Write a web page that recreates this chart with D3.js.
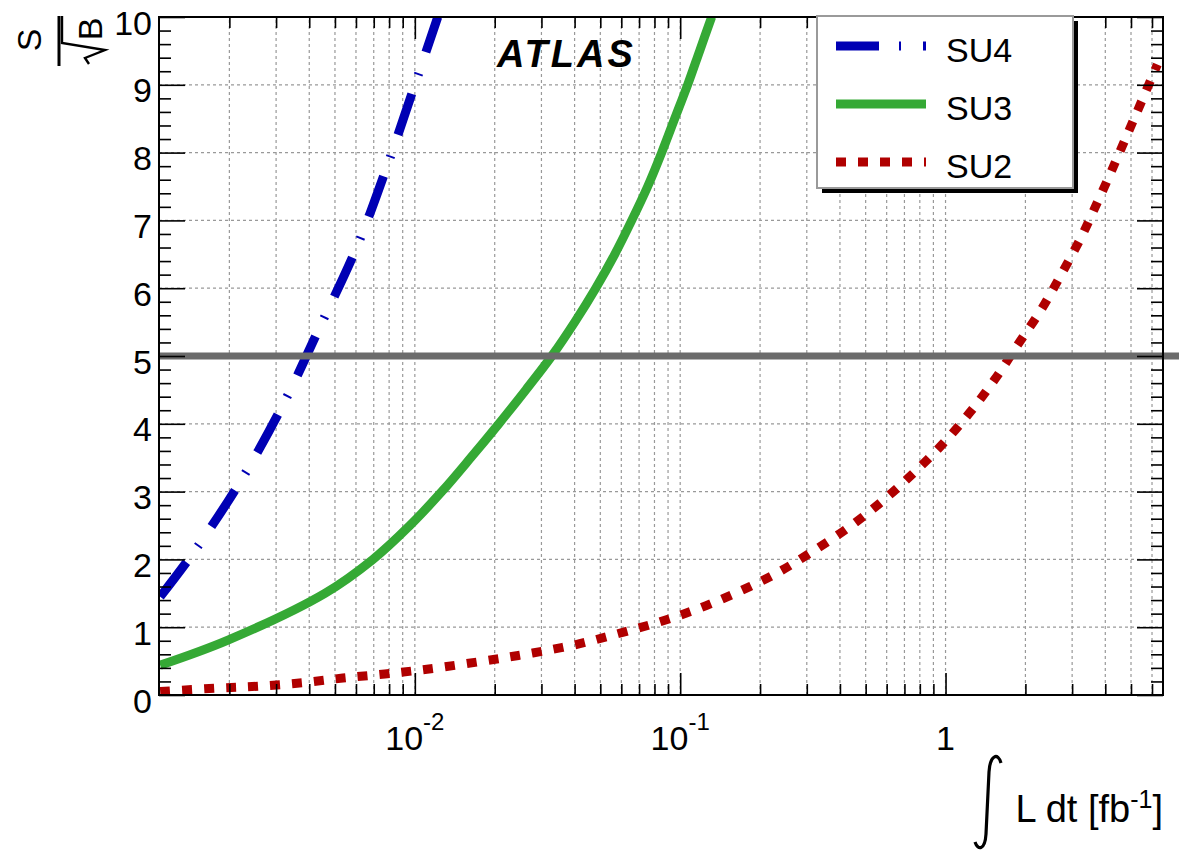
<!DOCTYPE html>
<html>
<head>
<meta charset="utf-8">
<script src="https://cdn.jsdelivr.net/npm/d3@7"></script>
<style>
  body { margin: 0; background: #fff; }
  svg { display: block; font-family: "Liberation Sans", Arial, Helvetica, sans-serif; }
</style>
</head>
<body>
<div id="plot"></div>
<script>
// integrated luminosity [fb^-1] vs S/sqrt(B)
const lumi_SU4 = [0.001097, 0.001458, 0.002193, 0.003184, 0.004387, 0.006046, 0.007842, 0.01, 0.0122];
const sig_SU4  = [1.45, 2.09, 3.14, 4.28, 5.43, 6.61, 7.79, 9.0, 10.0];

const lumi_SU3 = [0.001097, 0.001976, 0.004581, 0.006947, 0.009576, 0.01264, 0.01625, 0.02072,
                  0.02619, 0.03281, 0.04005, 0.04805, 0.05667, 0.06568, 0.07542, 0.08517, 0.09534,
                  0.1067, 0.1184, 0.1314];
const sig_SU3  = [0.44, 0.81, 1.5, 2.0, 2.5, 3.0, 3.5, 4.0, 4.5, 5.0, 5.5, 6.0, 6.5, 7.0, 7.5,
                  8.0, 8.5, 9.0, 9.5, 10.0];

const lumi_SU2 = [0.001097, 0.001765, 0.002563, 0.003753, 0.005355, 0.007709, 0.0111, 0.0195, 0.0278,
                  0.0401, 0.0577, 0.0823, 0.1164, 0.1632, 0.227, 0.3075, 0.4274, 0.5741, 0.7512, 0.9743,
                  1.231, 1.53, 1.867, 2.299, 2.735, 3.252, 3.737, 4.146, 4.523, 5.242, 6.288];
const sig_SU2  = [0.05, 0.10, 0.13, 0.18, 0.25, 0.31, 0.38, 0.52, 0.62, 0.74, 0.90, 1.07, 1.27, 1.51,
                  1.78, 2.09, 2.46, 2.85, 3.26, 3.70, 4.16, 4.65, 5.16, 5.69, 6.21, 6.76, 7.27, 7.66, 8.0,
                  8.58, 9.3];

const legendNames = ["SU4", "SU3", "SU2"];
const yTicks = [0, 1, 2, 3, 4, 5, 6, 7, 8, 9, 10];
const xLabelValues = [0.01, 0.1, 1];
const xLabelExps = ["-2", "-1", ""];
const discoveryLevel = 5;

var W = 1179, H = 851;
var frameL = 159, frameR = 1163, frameT = 17, frameB = 695;

var x = d3.scaleLog().domain([1.086e-3, 6.6]).range([frameL, frameR]);
var y = d3.scaleLinear().domain([0, 10]).range([frameB, frameT]);

// tick positions for log axis
var xMajor = [], xMinor = [];
for (var e = -3; e <= 0; e++) {
  for (var k = 1; k <= 9; k++) {
    var v = k * Math.pow(10, e);
    if (v < x.domain()[0] || v > x.domain()[1]) continue;
    if (k === 1) xMajor.push(v); else xMinor.push(v);
  }
}
var yMinor = [];
for (var i = 0; i < 50; i++) { if (i % 5 !== 0) yMinor.push(i / 5); }

var svg = d3.select("#plot").append("svg").attr("width", W).attr("height", H);

svg.append("defs").append("clipPath").attr("id", "clip")
  .append("rect").attr("x", frameL).attr("y", frameT).attr("width", frameR - frameL).attr("height", frameB - frameT);

// grid
var grid = svg.append("g").attr("stroke", "#999").attr("stroke-width", 1.2).attr("stroke-dasharray", "3,3");
grid.selectAll(".vg").data(xMajor.concat(xMinor)).enter().append("line")
  .attr("x1", d => x(d)).attr("x2", d => x(d)).attr("y1", frameB).attr("y2", frameT);
grid.selectAll(".hg").data(yTicks.slice(1, -1)).enter().append("line")
  .attr("x1", frameL).attr("x2", frameR).attr("y1", d => y(d)).attr("y2", d => y(d));

// curves
var series = [
  {name: "SU4", lumi: lumi_SU4, sig: sig_SU4, color: "#0000b4", dash: "43,20,2,22"},
  {name: "SU3", lumi: lumi_SU3, sig: sig_SU3, color: "#35a935", dash: null},
  {name: "SU2", lumi: lumi_SU2, sig: sig_SU2, color: "#b00000", dash: "10,12"}
];
var line = d3.line().x(d => x(d[0])).y(d => y(d[1])).curve(d3.curveCatmullRom.alpha(0.5));

var curves = svg.append("g").attr("clip-path", "url(#clip)");
series.forEach(function(s) {
  curves.append("path")
    .datum(d3.zip(s.lumi, s.sig))
    .attr("d", line)
    .attr("fill", "none")
    .attr("stroke", s.color)
    .attr("stroke-width", 9)
    .attr("stroke-dasharray", s.dash);
});

// 5 sigma line
svg.append("line")
  .attr("x1", frameL).attr("x2", W)
  .attr("y1", y(discoveryLevel)).attr("y2", y(discoveryLevel))
  .attr("stroke", "#6b6b6b").attr("stroke-width", 7);

// axes (ticks inside, on all four sides)
function styleAxis(g) {
  g.select(".domain").remove();
  g.selectAll("line").attr("stroke", "#000").attr("stroke-width", 1.6);
}
svg.append("g").attr("transform", `translate(0,${frameB})`)
  .call(d3.axisBottom(x).tickValues(xMajor).tickSize(-22).tickFormat("")).call(styleAxis);
svg.append("g").attr("transform", `translate(0,${frameB})`)
  .call(d3.axisBottom(x).tickValues(xMinor).tickSize(-11).tickFormat("")).call(styleAxis);
svg.append("g").attr("transform", `translate(0,${frameT})`)
  .call(d3.axisTop(x).tickValues(xMajor).tickSize(-22).tickFormat("")).call(styleAxis);
svg.append("g").attr("transform", `translate(0,${frameT})`)
  .call(d3.axisTop(x).tickValues(xMinor).tickSize(-11).tickFormat("")).call(styleAxis);

var yAxis = svg.append("g").attr("transform", `translate(${frameL},0)`)
  .call(d3.axisLeft(y).tickValues(yTicks).tickSize(-26).tickPadding(7).tickFormat(d3.format("d")))
  .call(styleAxis);
yAxis.selectAll("text").attr("font-size", 34).attr("font-family", null).attr("fill", "#000").attr("dy", "0.5em");
svg.append("g").attr("transform", `translate(${frameL},0)`)
  .call(d3.axisLeft(y).tickValues(yMinor).tickSize(-12).tickFormat("")).call(styleAxis);
svg.append("g").attr("transform", `translate(${frameR},0)`)
  .call(d3.axisRight(y).tickValues(yTicks).tickSize(-26).tickFormat("")).call(styleAxis);
svg.append("g").attr("transform", `translate(${frameR},0)`)
  .call(d3.axisRight(y).tickValues(yMinor).tickSize(-12).tickFormat("")).call(styleAxis);

// frame
svg.append("rect").attr("x", frameL).attr("y", frameT).attr("width", frameR - frameL).attr("height", frameB - frameT)
  .attr("fill", "none").attr("stroke", "#000").attr("stroke-width", 2);

// x tick labels 10^-2, 10^-1, 1
xLabelValues.forEach(function(v, i) {
  var t = svg.append("text").attr("x", x(v)).attr("y", 750)
    .attr("text-anchor", "middle").attr("font-size", 34);
  if (xLabelExps[i] === "") { t.text("1"); return; }
  t.append("tspan").text("10");
  t.append("tspan").attr("font-size", 24).attr("dy", -20).text(xLabelExps[i]);
});

// x axis title
svg.append("path")
  .attr("d", "M1001,763 C998,752 990,755 989,772 L986,834 C985,850 978,851 975,842")
  .attr("fill", "none").attr("stroke", "#000").attr("stroke-width", 3.2);
var xt = svg.append("text").attr("x", frameR).attr("y", 822).attr("text-anchor", "end").attr("font-size", 38);
xt.append("tspan").text("L dt [fb");
xt.append("tspan").attr("font-size", 25).attr("dy", -14).text("-1");
xt.append("tspan").attr("dy", 14).text("]");

// y axis title S / sqrt(B), rotated
var yt = svg.append("g").attr("transform", "translate(59,66) rotate(-90)");
yt.append("line").attr("x1", 0).attr("x2", 50).attr("y1", 0).attr("y2", 0).attr("stroke", "#000").attr("stroke-width", 3);
yt.append("text").attr("x", 26).attr("y", -18).attr("text-anchor", "middle").attr("font-size", 34).text("S");
yt.append("text").attr("x", 37).attr("y", 43).attr("text-anchor", "middle").attr("font-size", 34).text("B");
yt.append("path").attr("d", "M2,30 L8,26 L16,46 L23,3 L50,3")
  .attr("fill", "none").attr("stroke", "#000").attr("stroke-width", 2.4);

// ATLAS label
svg.append("text").attr("x", 497).attr("y", 67)
  .attr("font-size", 38).attr("font-weight", "bold").attr("font-style", "italic")
  .attr("letter-spacing", 3).text("ATLAS");

// legend
var lg = svg.append("g");
lg.append("rect").attr("x", 822).attr("y", 21).attr("width", 256).attr("height", 172).attr("fill", "#000");
lg.append("rect").attr("x", 817).attr("y", 16).attr("width", 256).attr("height", 172)
  .attr("fill", "#fff").attr("stroke", "#9a9a9a").attr("stroke-width", 2);
var rowY = [46, 104, 162];
legendNames.forEach(function(name, i) {
  var s = series.find(d => d.name === name);
  lg.append("line").attr("x1", 836).attr("x2", 926).attr("y1", rowY[i]).attr("y2", rowY[i])
    .attr("stroke", s.color).attr("stroke-width", 9).attr("stroke-dasharray", s.dash);
  lg.append("text").attr("x", 946).attr("y", rowY[i] + 16).attr("font-size", 34).text(name);
});
</script>
</body>
</html>
